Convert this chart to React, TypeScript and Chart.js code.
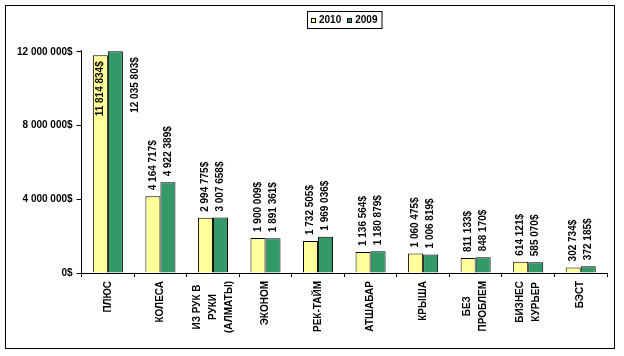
import React, { useEffect, useRef } from "react";
import { Chart, registerables } from "chart.js";

Chart.register(...registerables);

const categories: string[][] = [
  ["ПЛЮС"],
  ["КОЛЕСА"],
  ["ИЗ РУК В", "РУКИ", "(АЛМАТЫ)"],
  ["ЭКОНОМ"],
  ["РЕК-ТАЙМ"],
  ["АТШАБАР"],
  ["КРЫША"],
  ["БЕЗ", "ПРОБЛЕМ"],
  ["БИЗНЕС", "КУРЬЕР"],
  ["БЭСТ"],
];
const seriesNames = ["2010", "2009"];
const values2010 = [11814834, 4164717, 2994775, 1900009, 1732505, 1136564, 1060475, 811133, 614121, 302734];
const values2009 = [12035803, 4922389, 3007658, 1891361, 1969036, 1180879, 1006819, 848170, 585070, 372185];
const yTicks = [0, 4000000, 8000000, 12000000];
const colors = ["#FFFF99", "#339966"];

const FAMILY = "'Liberation Sans', Arial, sans-serif";
const FONT = `bold 10px ${FAMILY}`;

const fmt = (n: number) =>
  Math.round(n).toString().replace(/\B(?=(\d{3})+(?!\d))/g, " ") + "$";

const decor = {
  id: "decor",
  beforeDraw(chart: any) {
    const ctx = chart.ctx;
    ctx.save();
    ctx.fillStyle = "#fff";
    ctx.fillRect(0, 0, chart.width, chart.height);
    ctx.restore();
  },
  afterDraw(chart: any) {
    const ctx = chart.ctx;
    const area = chart.chartArea;
    ctx.save();
    // outer frame
    ctx.strokeStyle = "#000";
    ctx.lineWidth = 1;
    ctx.strokeRect(5.5, 5.5, chart.width - 15, chart.height - 13);

    ctx.font = FONT;
    ctx.fillStyle = "#000";

    // value labels
    chart.data.datasets.forEach((ds: any, di: number) => {
      const meta = chart.getDatasetMeta(di);
      meta.data.forEach((bar: any, i: number) => {
        const p = bar.getProps(["x", "y", "width"], true);
        const text = fmt(ds.data[i]);
        const w = ctx.measureText(text).width;
        let x = p.x;
        let start = p.y - 6;
        if (p.y - 6 - w < area.top - 25) {
          start = p.y + 6 + w;
          if (di > 0) x = p.x + p.width / 2 + 12;
        }
        ctx.save();
        ctx.translate(x, start);
        ctx.rotate(-Math.PI / 2);
        ctx.textAlign = "left";
        ctx.textBaseline = "middle";
        ctx.fillText(text, 0, 0);
        ctx.restore();
      });
    });

    // category labels (rotated, lines centred on each other)
    const xs = chart.scales.x;
    const lineGap = 16;
    categories.forEach((lines, i) => {
      const cx = xs.getPixelForValue(i);
      const maxW = Math.max(...lines.map((l) => ctx.measureText(l).width));
      const cy = area.bottom + 8 + maxW / 2;
      lines.forEach((l, li) => {
        const lx = cx + (li - (lines.length - 1) / 2) * lineGap;
        ctx.save();
        ctx.translate(lx, cy);
        ctx.rotate(-Math.PI / 2);
        ctx.textAlign = "center";
        ctx.textBaseline = "middle";
        ctx.fillText(l, 0, 0);
        ctx.restore();
      });
    });

    // legend
    const box = 5;
    const gap = 3;
    const items = chart.data.datasets.map((d: any) => ({
      label: d.label,
      color: d.backgroundColor,
      w: ctx.measureText(d.label).width,
    }));
    const totalW =
      items.reduce((s: number, it: any) => s + box + gap + it.w, 0) + (items.length - 1) * 6 + 8;
    const lx0 = Math.round(chart.width * 0.552 - totalW / 2) + 0.5;
    const ly0 = 11.5;
    const lh = 17;
    ctx.strokeRect(lx0, ly0, totalW, lh);
    let cur = lx0 + 3.5;
    const my = ly0 + lh / 2;
    items.forEach((it: any) => {
      ctx.fillStyle = it.color;
      ctx.fillRect(Math.round(cur), Math.round(my - box / 2), box, box);
      ctx.strokeStyle = "#000";
      ctx.strokeRect(Math.round(cur) + 0.5, Math.round(my - box / 2) + 0.5, box - 1, box - 1);
      cur += box + gap;
      ctx.fillStyle = "#000";
      ctx.textAlign = "left";
      ctx.textBaseline = "middle";
      ctx.fillText(it.label, cur, my + 0.5);
      cur += it.w + 6;
    });
    ctx.restore();
  },
};

export default function App() {
  const ref = useRef<HTMLCanvasElement>(null);
  useEffect(() => {
    document.body.style.margin = "0";
    const chart = new Chart(ref.current!, {
      type: "bar",
      data: {
        labels: categories.map((c) => c.join(" ")),
        datasets: [
          {
            label: seriesNames[0],
            data: values2010,
            backgroundColor: colors[0],
            borderColor: "#000",
            borderWidth: 1,
            categoryPercentage: 0.572,
            barPercentage: 1,
          },
          {
            label: seriesNames[1],
            data: values2009,
            backgroundColor: colors[1],
            borderColor: "#000",
            borderWidth: 1,
            categoryPercentage: 0.572,
            barPercentage: 1,
          },
        ],
      },
      options: {
        responsive: false,
        animation: false,
        layout: { padding: { left: 13, right: 17, top: 50, bottom: 79 } },
        plugins: { legend: { display: false }, tooltip: { enabled: false } },
        scales: {
          x: {
            grid: { drawOnChartArea: false, drawTicks: true, tickLength: 4, color: "#000", offset: true },
            border: { display: true, color: "#000" },
            ticks: { display: false },
          },
          y: {
            min: 0,
            max: 12100000,
            afterBuildTicks: (s: any) => {
              s.ticks = yTicks.map((v) => ({ value: v }));
            },
            grid: { drawOnChartArea: false, drawTicks: true, tickLength: 5, color: "#000" },
            border: { display: true, color: "#000" },
            ticks: {
              color: "#000",
              padding: 4,
              font: { family: FAMILY, size: 10, weight: "bold" },
              callback: (v: any) => fmt(Number(v)),
            },
          },
        },
      },
      plugins: [decor],
    });
    return () => chart.destroy();
  }, []);
  return (
    <div style={{ position: "absolute", left: 0, top: 0, width: 624, height: 356 }}>
      <canvas ref={ref} width={624} height={356} />
    </div>
  );
}
